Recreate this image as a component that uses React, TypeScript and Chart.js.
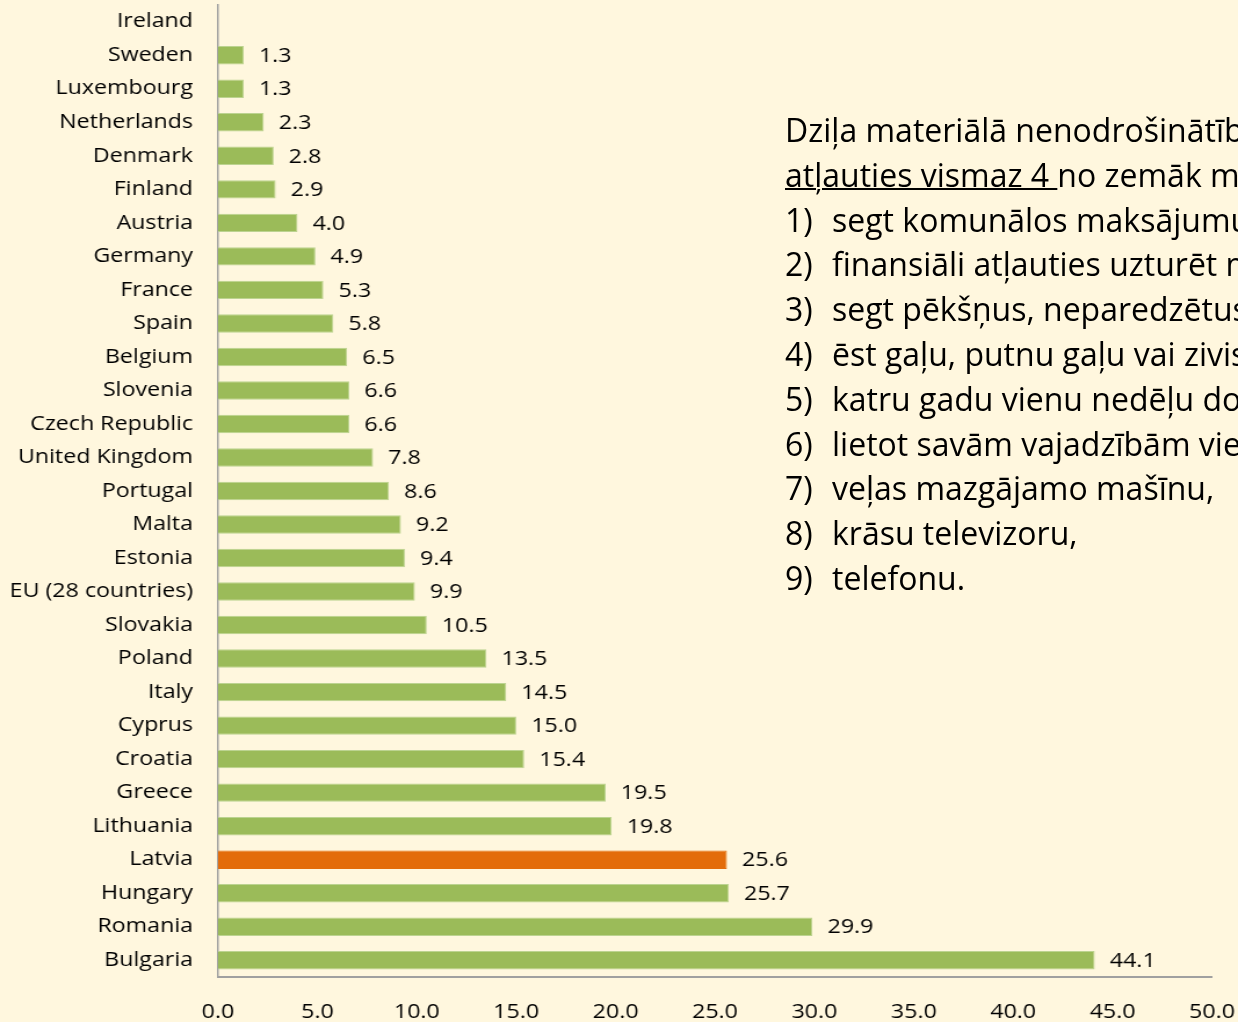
import React, { useEffect, useRef } from "react";
import { Chart, registerables } from "chart.js";

Chart.register(...registerables);

const categories: string[] = [
  "Ireland", "Sweden", "Luxembourg", "Netherlands", "Denmark", "Finland", "Austria",
  "Germany", "France", "Spain", "Belgium", "Slovenia", "Czech Republic", "United Kingdom",
  "Portugal", "Malta", "Estonia", "EU (28 countries)", "Slovakia", "Poland", "Italy",
  "Cyprus", "Croatia", "Greece", "Lithuania", "Latvia", "Hungary", "Romania", "Bulgaria",
];

const values: (number | null)[] = [
  null, 1.3, 1.3, 2.3, 2.8, 2.9, 4.0,
  4.9, 5.3, 5.8, 6.5, 6.6, 6.6, 7.8,
  8.6, 9.2, 9.4, 9.9, 10.5, 13.5, 14.5,
  15.0, 15.4, 19.5, 19.8, 25.6, 25.7, 29.9, 44.1,
];

const highlight = "Latvia";

const xMin = 0;
const xMax = 50;
const xStep = 5;

const headingLine1 = "Dziļa materiālā nenodrošinātība – nespēja";
const headingUnderlined = "atļauties vismaz 4 ";
const headingRest = "no zemāk minētajām 9 pozīcijām:";
const listItems: string[] = [
  "segt komunālos maksājumus,",
  "finansiāli atļauties uzturēt mājokli pietiekami siltu,",
  "segt pēkšņus, neparedzētus izdevumus,",
  "ēst gaļu, putnu gaļu vai zivis katru otro dienu,",
  "katru gadu vienu nedēļu doties atvaļinājumā ārpus mājām,",
  "lietot savām vajadzībām vieglo automašīnu,",
  "veļas mazgājamo mašīnu,",
  "krāsu televizoru,",
  "telefonu.",
];

const FONT = "'Open Sans', 'DejaVu Sans', sans-serif";
const BG = "#FFF7DE";
const GREEN = "#9BBB59";
const GREEN_BORDER = "#BCD390";
const ORANGE = "#E36C0A";

// the chart picture is horizontally stretched, like the original slide
const W = 1238;
const H = 1022;
const STRETCH = 1.16;
const CW = Math.round(W / STRETCH);
const SX = W / CW;

const valueLabels = {
  id: "valueLabels",
  afterDatasetsDraw(chart: any) {
    const ctx = chart.ctx;
    const meta = chart.getDatasetMeta(0);
    ctx.save();
    ctx.font = `20px ${FONT}`;
    ctx.fillStyle = "#000";
    ctx.textAlign = "left";
    ctx.textBaseline = "middle";
    meta.data.forEach((bar: any, i: number) => {
      const v = values[i];
      if (v === null || v === undefined) return;
      ctx.fillText(v.toFixed(1), bar.x + 13, bar.y + 1);
    });
    ctx.restore();
  },
};

export default function App() {
  const canvasRef = useRef<HTMLCanvasElement | null>(null);

  useEffect(() => {
    document.body.style.margin = "0";
    const canvas = canvasRef.current;
    if (!canvas) return;
    const chart = new Chart(canvas, {
      type: "bar",
      data: {
        labels: categories,
        datasets: [
          {
            data: values as any,
            backgroundColor: categories.map((c) => (c === highlight ? ORANGE : GREEN)),
            borderColor: categories.map((c) => (c === highlight ? ORANGE : GREEN_BORDER)),
            borderWidth: 1,
            barPercentage: 0.55,
            categoryPercentage: 1,
          },
        ],
      },
      options: {
        indexAxis: "y",
        animation: false,
        responsive: false,
        maintainAspectRatio: false,
        layout: { padding: { top: 5, right: CW - 1212 / SX, left: 0, bottom: 0 } },
        plugins: {
          legend: { display: false },
          tooltip: { enabled: false },
        },
        scales: {
          x: {
            min: xMin,
            max: xMax,
            grid: { display: false, drawTicks: false },
            border: { display: true, color: "#A0A0A0", width: 2 },
            ticks: {
              stepSize: xStep,
              padding: 23,
              color: "#000",
              font: { family: FONT, size: 20 },
              callback: (v: any) => Number(v).toFixed(1),
            },
            afterFit: (scale: any) => {
              scale.height = H - 977;
              scale.paddingLeft = 0;
              scale.paddingRight = 0;
            },
          },
          y: {
            grid: { display: false, drawTicks: false },
            border: { display: true, color: "#A0A0A0", width: 1.5 },
            ticks: {
              padding: 25 / SX,
              color: "#000",
              autoSkip: false,
              font: { family: FONT, size: 20 },
            },
            afterFit: (scale: any) => {
              scale.width = 218 / SX;
              scale.paddingTop = 0;
              scale.paddingBottom = 0;
            },
          },
        },
      },
      plugins: [valueLabels],
    });
    return () => chart.destroy();
  }, []);

  const lineH = 44.8;
  return (
    <div
      style={{
        position: "absolute",
        left: 0,
        top: 0,
        width: W,
        height: H,
        background: BG,
        overflow: "hidden",
      }}
    >
      <canvas
        ref={canvasRef}
        width={CW}
        height={H}
        style={{
          display: "block",
          width: CW,
          height: H,
          transform: `scaleX(${SX})`,
          transformOrigin: "0 0",
        }}
      />
      <div
        style={{
          position: "absolute",
          left: 785,
          top: 108,
          fontFamily: FONT,
          fontSize: 32,
          lineHeight: `${lineH}px`,
          color: "#000",
          whiteSpace: "nowrap",
        }}
      >
        <div>{headingLine1}</div>
        <div>
          <span style={{ textDecoration: "underline", textDecorationThickness: 2 }}>{headingUnderlined}</span>
          {headingRest}
        </div>
        {listItems.map((t, i) => (
          <div key={i}>
            <span style={{ display: "inline-block", width: 47 }}>{`${i + 1})`}</span>
            <span>{t}</span>
          </div>
        ))}
      </div>
    </div>
  );
}
